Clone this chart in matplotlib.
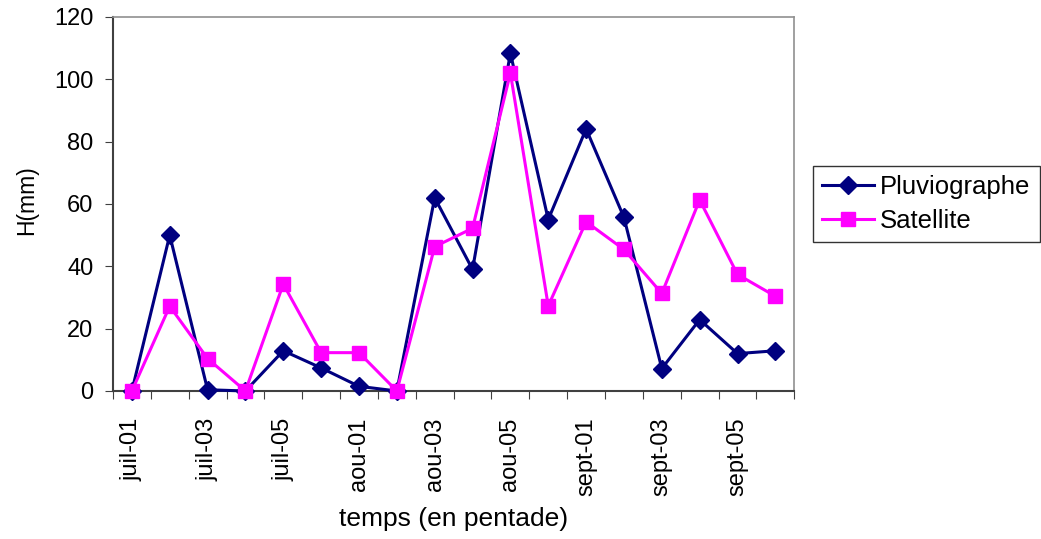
import matplotlib
matplotlib.use('Agg')
import matplotlib.pyplot as plt
import numpy as np

plt.rcParams['font.family'] = ['Liberation Sans', 'DejaVu Sans']

# Pentades from July to September
categories = ['juil-01', 'juil-02', 'juil-03', 'juil-04', 'juil-05', 'juil-06',
              'aou-01', 'aou-02', 'aou-03', 'aou-04', 'aou-05', 'aou-06',
              'sept-01', 'sept-02', 'sept-03', 'sept-04', 'sept-05', 'sept-06']

pluviographe = [0, 50, 0.4, 0, 12.9, 7.4, 1.5, 0, 62, 39, 108.4, 55,
                84.1, 55.7, 7.2, 22.9, 12, 12.9]
satellite = [0, 27.2, 10.4, 0, 34.3, 12.3, 12.3, 0, 46.3, 52.2, 102, 27.3,
             54.3, 45.4, 31.3, 61.3, 37.4, 30.4]

fig = plt.figure(figsize=(10.41, 5.39), dpi=100)
ax = fig.add_axes([0.1085, 0.2746, 0.6545, 0.6939])

x = np.arange(len(categories))
ax.plot(x, pluviographe, color='#000080', linewidth=2.2, marker='D',
        markersize=9, label='Pluviographe', clip_on=False, zorder=3)
ax.plot(x, satellite, color='#FF00FF', linewidth=2.2, marker='s',
        markersize=10, label='Satellite', clip_on=False, zorder=4)

ax.set_xlim(-0.5, len(categories) - 0.5)
ax.set_ylim(0, 120)
ax.set_yticks(np.arange(0, 121, 20))

# category ticks between points, labels on every other point
ax.set_xticks(np.arange(-0.5, len(categories)), minor=False)
ax.set_xticklabels([])
ax.set_xticks(x[::2], minor=True)
ax.set_xticklabels(categories[::2], minor=True, rotation=90, fontsize=17)
ax.tick_params(axis='x', which='minor', length=0, pad=19)
ax.tick_params(axis='x', which='major', length=6, direction='out', color='#404040')
ax.tick_params(axis='y', length=6, direction='out', color='#404040',
               labelsize=17, pad=8)

for s in ['left', 'bottom']:
    ax.spines[s].set_color('#404040')
    ax.spines[s].set_linewidth(1.5)
for s in ['top', 'right']:
    ax.spines[s].set_color('#909090')
    ax.spines[s].set_linewidth(1.2)

ax.set_ylabel('H(mm)', fontsize=16.5)
ax.yaxis.set_label_coords(-0.110, 0.51)
ax.set_xlabel('temps (en pentade)', fontsize=19)
ax.xaxis.set_label_coords(0.5, -0.31)

leg = ax.legend(loc='center left', bbox_to_anchor=(1.028, 0.5), fontsize=18.5,
                frameon=True, fancybox=False, edgecolor='black',
                handlelength=2.0, borderpad=0.35, labelspacing=0.4,
                handletextpad=0.25, borderaxespad=0)
leg.get_frame().set_linewidth(1.0)

fig.savefig('out.png', dpi=100)
